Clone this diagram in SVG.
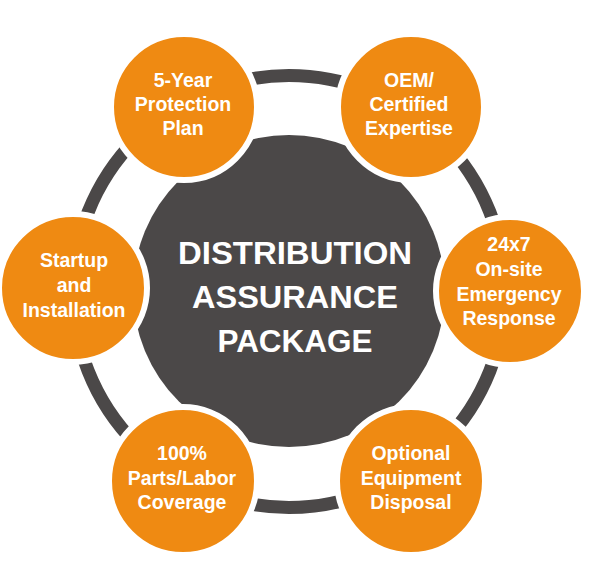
<svg xmlns="http://www.w3.org/2000/svg" width="596" height="580" viewBox="0 0 596 580">
<style>
.ring{fill:none;stroke:#4b4848;stroke-width:13}
.hub{fill:#4b4848}
.node{fill:#ef8a12;stroke:#ffffff;stroke-width:6}
.lbl{font-family:"Liberation Sans",Arial,sans-serif;font-weight:bold;font-size:19.5px;fill:#ffffff;text-anchor:middle}
.title{font-family:"Liberation Sans",Arial,sans-serif;font-weight:bold;font-size:31px;fill:#ffffff;text-anchor:middle}
</style>
<rect width="596" height="580" fill="#ffffff"/>
<g id="connectors">
<circle class="ring" cx="289" cy="291.5" r="216"/>
</g>
<g id="hub">
<circle class="hub" cx="289" cy="291" r="156"/>
<text class="title" x="295" y="264" textLength="234" lengthAdjust="spacingAndGlyphs">DISTRIBUTION</text>
<text class="title" x="295" y="308" textLength="206" lengthAdjust="spacingAndGlyphs">ASSURANCE</text>
<text class="title" x="295" y="352" textLength="155" lengthAdjust="spacingAndGlyphs">PACKAGE</text>
</g>
<g id="n1">
<circle class="node" cx="184" cy="107" r="73"/>
<text class="lbl" x="183" y="87">5-Year</text>
<text class="lbl" x="183" y="111">Protection</text>
<text class="lbl" x="183" y="135">Plan</text>
</g>
<g id="n2">
<circle class="node" cx="411" cy="107" r="73"/>
<text class="lbl" x="409" y="87">OEM/</text>
<text class="lbl" x="409" y="111">Certified</text>
<text class="lbl" x="409" y="135">Expertise</text>
</g>
<g id="n3">
<circle class="node" cx="73" cy="288" r="74"/>
<text class="lbl" x="74" y="267">Startup</text>
<text class="lbl" x="74" y="292">and</text>
<text class="lbl" x="74" y="317">Installation</text>
</g>
<g id="n4">
<circle class="node" cx="510" cy="291" r="74"/>
<text class="lbl" x="509" y="251">24x7</text>
<text class="lbl" x="509" y="276">On-site</text>
<text class="lbl" x="509" y="301">Emergency</text>
<text class="lbl" x="509" y="325">Response</text>
</g>
<g id="n5">
<circle class="node" cx="183" cy="481" r="74"/>
<text class="lbl" x="182" y="460">100%</text>
<text class="lbl" x="182" y="485">Parts/Labor</text>
<text class="lbl" x="182" y="509">Coverage</text>
</g>
<g id="n6">
<circle class="node" cx="411" cy="481" r="74"/>
<text class="lbl" x="411" y="460">Optional</text>
<text class="lbl" x="411" y="485">Equipment</text>
<text class="lbl" x="411" y="509">Disposal</text>
</g>
</svg>
